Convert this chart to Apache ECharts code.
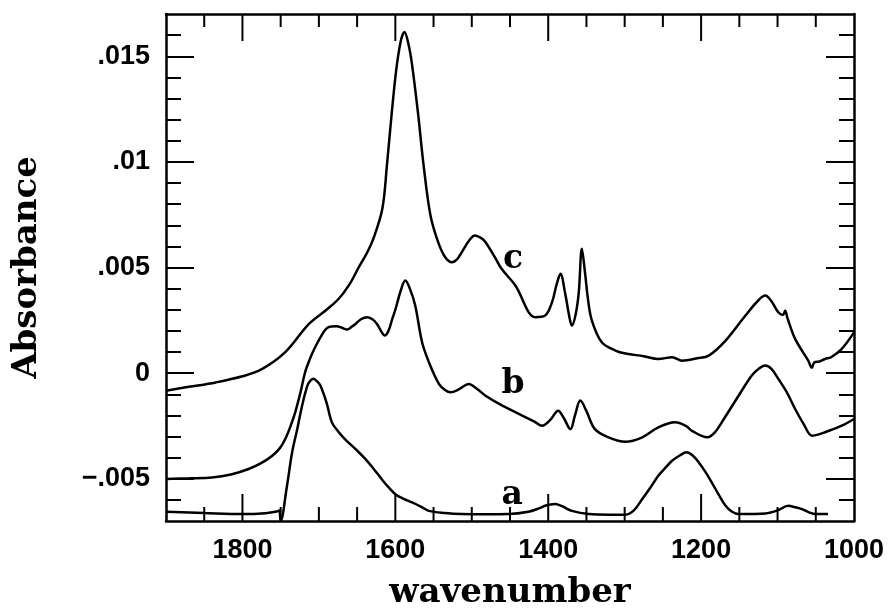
<!DOCTYPE html>
<html><head><meta charset="utf-8">
<script src="https://cdn.jsdelivr.net/npm/echarts@6/dist/echarts.min.js"></script>
<style>html,body{margin:0;padding:0;background:#fff}#chart{width:890px;height:609px}</style>
</head><body><div id="chart"></div>
<script>
// ---- data (wavenumber, absorbance) ----
const waveA = [1900,1850,1800,1770,1755,1752,1750,1742,1735,1728,1722,1716,1713,1707,1702,1698,1690,1683,1675,1666,1652,1639,1628,1618,1609,1600,1589,1578,1565,1556,1535,1513,1480,1452,1426,1412,1404,1397,1391,1382,1369,1347,1320,1299,1288,1277,1266,1256,1246,1238,1228,1219,1211,1203,1194,1186,1177,1168,1160,1151,1130,1116,1100,1086,1077,1068,1058,1051,1034];
const absA = [-0.00656,-0.00662,-0.00667,-0.00663,-0.00655,-0.00650,-0.00700,-0.00540,-0.00375,-0.00260,-0.00154,-0.00070,-0.00044,-0.00027,-0.00040,-0.00059,-0.00140,-0.00233,-0.00275,-0.00312,-0.00360,-0.00407,-0.00455,-0.00501,-0.00540,-0.00573,-0.00595,-0.00612,-0.00635,-0.00652,-0.00662,-0.00667,-0.00668,-0.00667,-0.00656,-0.00640,-0.00628,-0.00622,-0.00620,-0.00630,-0.00652,-0.00667,-0.00670,-0.00670,-0.00650,-0.00596,-0.00540,-0.00486,-0.00445,-0.00415,-0.00390,-0.00375,-0.00390,-0.00423,-0.00470,-0.00518,-0.00575,-0.00628,-0.00655,-0.00667,-0.00667,-0.00665,-0.00650,-0.00628,-0.00635,-0.00644,-0.00660,-0.00667,-0.00667];

const waveB = [1900,1870,1840,1815,1792,1775,1761,1751,1744,1737,1731,1724,1718,1712,1707,1697,1688,1677,1670,1663,1657,1652,1645,1637,1630,1624,1618,1614,1609,1604,1600,1593,1587,1581,1574,1565,1556,1543,1535,1528,1516,1504,1493,1482,1460,1434,1418,1408,1397,1387,1380,1371,1365,1358,1350,1339,1321,1299,1277,1256,1234,1220,1212,1192,1182,1173,1151,1134,1125,1116,1108,1099,1088,1077,1066,1055,1046,1038,1016,1000];
const absB = [-0.00501,-0.00498,-0.00494,-0.00480,-0.00454,-0.00425,-0.00391,-0.00355,-0.00312,-0.00250,-0.00186,-0.00090,0.00004,0.00065,0.00107,0.00175,0.00217,0.00222,0.00215,0.00206,0.00220,0.00233,0.00255,0.00265,0.00255,0.00233,0.00195,0.00178,0.00200,0.00257,0.00300,0.00390,0.00438,0.00400,0.00320,0.00146,0.00051,-0.00051,-0.00080,-0.00091,-0.00075,-0.00051,-0.00075,-0.00107,-0.00154,-0.00201,-0.00230,-0.00249,-0.00220,-0.00178,-0.00210,-0.00265,-0.00200,-0.00130,-0.00180,-0.00265,-0.00304,-0.00325,-0.00304,-0.00257,-0.00233,-0.00250,-0.00273,-0.00304,-0.00280,-0.00233,-0.00107,-0.00012,0.00020,0.00036,0.00020,-0.00027,-0.00090,-0.00170,-0.00240,-0.00296,-0.00290,-0.00280,-0.00249,-0.00217];

const waveC = [1900,1870,1835,1800,1774,1744,1713,1690,1674,1660,1648,1637,1628,1617,1611,1605,1599,1593,1588,1583,1578,1570,1563,1554,1544,1535,1526,1519,1513,1503,1496,1488,1482,1470,1461,1443,1417,1404,1395,1389,1384,1378,1372,1369,1364,1360,1356,1352,1348,1343,1330,1312,1299,1275,1256,1238,1225,1205,1190,1168,1142,1125,1116,1108,1099,1093,1090,1087,1077,1060,1055,1052,1045,1038,1030,1016,1000];
const absC = [-0.00083,-0.00065,-0.00044,-0.00015,0.00020,0.00099,0.00233,0.00300,0.00352,0.00420,0.00500,0.00570,0.00644,0.00778,0.00983,0.01220,0.01430,0.01570,0.01615,0.01560,0.01457,0.01220,0.00983,0.00746,0.00620,0.00550,0.00525,0.00540,0.00573,0.00630,0.00652,0.00640,0.00620,0.00550,0.00494,0.00415,0.00265,0.00273,0.00336,0.00420,0.00470,0.00380,0.00260,0.00225,0.00280,0.00383,0.00589,0.00480,0.00350,0.00250,0.00146,0.00107,0.00093,0.00080,0.00067,0.00075,0.00059,0.00070,0.00083,0.00154,0.00273,0.00345,0.00367,0.00340,0.00288,0.00275,0.00295,0.00260,0.00162,0.00060,0.00025,0.00050,0.00055,0.00067,0.00075,0.00115,0.00193];

const curveNames = ['a','b','c'];
const labelWave = [1447, 1446, 1446];
const labelAbs = [-0.00577, -0.00052, 0.0054];

// ---- ticks ----
const xLabels = [1800,1600,1400,1200,1000];
const xMajorTicks = [1800,1600,1400,1200];
const xMinorTicks = [1850,1750,1700,1650,1550,1500,1450,1350,1300,1250,1150,1100,1050];
const yLabels = [-0.005,0,0.005,0.01,0.015];
const yMinorTicks = [-0.006,-0.004,-0.003,-0.002,-0.001,0.001,0.002,0.003,0.004,0.006,0.007,0.008,0.009,0.011,0.012,0.013,0.014,0.016];

const X_MIN = 1000, X_MAX = 1900, Y_MIN = -0.007, Y_MAX = 0.017;

const black = '#000';
const tickFont = {color: black, fontFamily: 'Liberation Sans', fontWeight: 'bold', fontSize: 27};
const X_MAJOR_LEN = 27, X_MINOR_LEN_BOTTOM = 14, X_MINOR_LEN_TOP = 13;

function zip(xs, ys){ return xs.map((x,i)=>[x, ys[i]]); }
function yFmt(v){
  if (Math.abs(v) < 1e-12) return '0';
  const s = String(+Math.abs(v).toFixed(4)).replace(/^0/, '');
  return (v < 0 ? '\u2212' : '') + s;
}

function yAxis(pos, ticks, len, showLine, opts){
  return Object.assign({
    type:'value', position: pos, min: Y_MIN, max: Y_MAX,
    splitLine:{show:false},
    axisLine:{show:showLine, onZero:false, lineStyle:{color:black, width:2.5}},
    axisTick:{show:true, inside:true, length:len, customValues: ticks, lineStyle:{color:black, width:2}},
    axisLabel:{show:false}
  }, opts || {});
}

// x tick marks: drawn through the x scale by a custom series (major flag 1 / minor flag 0)
const xTickData = xMajorTicks.map(v => [v, 1]).concat(xMinorTicks.map(v => [v, 0]));

function renderXTick(params, api){
  const x = api.coord([api.value(0), Y_MIN])[0];
  const cs = params.coordSys;
  const major = api.value(1) === 1;
  const lb = major ? X_MAJOR_LEN : X_MINOR_LEN_BOTTOM;
  const lt = major ? X_MAJOR_LEN : X_MINOR_LEN_TOP;
  const yb = cs.y + cs.height, yt = cs.y;
  const st = {stroke: black, lineWidth: 2};
  return {type:'group', children:[
    {type:'line', shape:{x1:x, y1:yb, x2:x, y2:yb - lb}, style:st},
    {type:'line', shape:{x1:x, y1:yt, x2:x, y2:yt + lt}, style:st}
  ]};
}

const chart = echarts.init(document.getElementById('chart'), null, {renderer:'canvas'});
const lineStyle = {color: black, width: 2.5};
chart.setOption({
  animation:false,
  backgroundColor:'#fff',
  grid:{left:166, right:36, top:14, bottom:88, containLabel:false, outerBoundsMode:'none'},
  xAxis:[
    {type:'value', position:'bottom', min:X_MIN, max:X_MAX, inverse:true,
     splitLine:{show:false},
     axisLine:{show:true, onZero:false, lineStyle:{color:black, width:2.5}},
     axisTick:{show:false},
     axisLabel:{show:true, margin:16, customValues:xLabels, formatter:v=>String(v), ...tickFont},
     name:'wavenumber', nameLocation:'middle', nameGap:55,
     nameTextStyle:{color:black, fontFamily:'DejaVu Serif', fontWeight:'bold', fontSize:34}},
    {type:'value', position:'top', min:X_MIN, max:X_MAX, inverse:true,
     splitLine:{show:false},
     axisLine:{show:true, onZero:false, lineStyle:{color:black, width:2.5}},
     axisTick:{show:false}, axisLabel:{show:false}}
  ],
  yAxis:[
    yAxis('left', yLabels, 28, true, {
      axisLabel:{show:true, margin:16, customValues:yLabels, formatter:yFmt, ...tickFont},
      name:'Absorbance', nameLocation:'middle', nameGap:122, nameRotate:90,
      nameTextStyle:{color:black, fontFamily:'DejaVu Serif', fontWeight:'bold', fontSize:34}
    }),
    yAxis('left', yMinorTicks, 15, false),
    yAxis('right', yLabels, 28, true),
    yAxis('right', yMinorTicks, 15, false)
  ],
  series:[
    {type:'line', name:'a', data: zip(waveA, absA), showSymbol:false, smooth:0.35, lineStyle, xAxisIndex:0, yAxisIndex:0, clip:true},
    {type:'line', name:'b', data: zip(waveB, absB), showSymbol:false, smooth:0.35, lineStyle, xAxisIndex:0, yAxisIndex:0, clip:true},
    {type:'line', name:'c', data: zip(waveC, absC), showSymbol:false, smooth:0.35, lineStyle, xAxisIndex:0, yAxisIndex:0, clip:true},
    {type:'custom', name:'xticks', xAxisIndex:0, yAxisIndex:0, data: xTickData,
     encode:{x:0}, renderItem: renderXTick, clip:false, silent:true, z:5}
  ]
});
// curve labels placed through the chart's own scales
const zr = chart.getZr();
curveNames.forEach((n, i) => {
  const p = chart.convertToPixel({xAxisIndex:0, yAxisIndex:0}, [labelWave[i], labelAbs[i]]);
  zr.add(new echarts.graphic.Text({
    x: p[0], y: p[1], z: 100,
    style: {text: n, fill: '#000', font: 'bold 33px "DejaVu Serif"', align: 'center', verticalAlign: 'middle'}
  }));
});
</script></body></html>
